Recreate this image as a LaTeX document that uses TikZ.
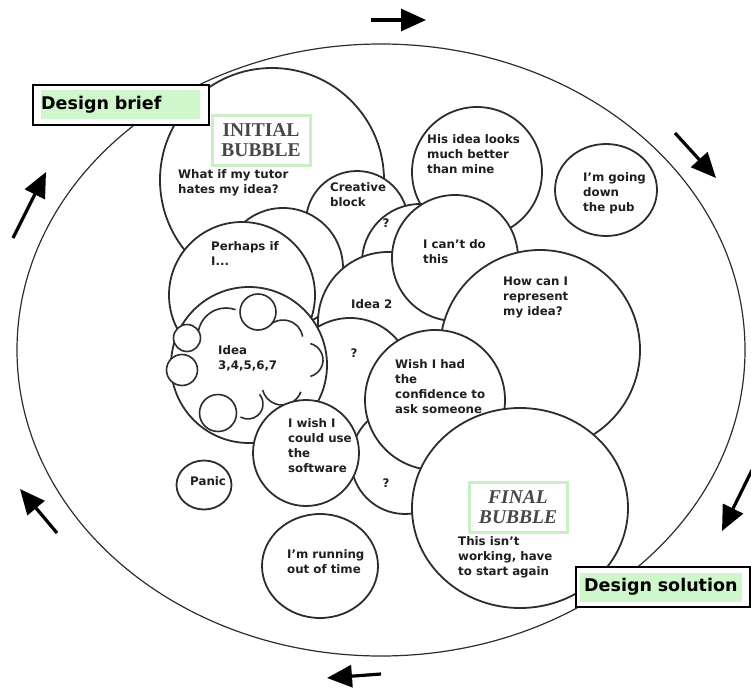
\documentclass[tikz,border=0pt]{standalone}
\usepackage{fontspec}
\setmainfont{DejaVu Sans}
\newfontfamily\stagefont{Liberation Serif}
\usetikzlibrary{arrows.meta,shapes.geometric}
\definecolor{briefgreen}{RGB}{208,246,204}
\definecolor{labelgreen}{RGB}{200,240,196}
\definecolor{inkgray}{RGB}{45,45,45}

\begin{document}
\begin{tikzpicture}[x=1pt,y=-1pt,
  bubble/.style={circle,draw=inkgray,fill=white,line width=1.8pt,inner sep=0pt},
  oval/.style={ellipse,draw=inkgray,fill=white,line width=1.8pt,inner sep=0pt},
  cloudline/.style={draw=inkgray,line width=1.6pt},
  thought/.style={anchor=north west,inner sep=0pt,align=left,text=black!88,font=\bfseries\fontsize{11.8}{15}\selectfont},
  query/.style={inner sep=0pt,text=black!88,font=\bfseries\fontsize{11.8}{15}\selectfont},
  turn/.style={line width=3.2pt,-{Triangle[length=25pt,width=22pt]}},
  stage/.style={draw=labelgreen,line width=3pt,fill=white,align=center,text=black!72,minimum width=98pt,minimum height=50pt,inner sep=0pt},
  endpoint/.style={draw=black,line width=1.1pt,fill=white,inner sep=0pt,minimum height=40pt},
  endfill/.style={fill=briefgreen,anchor=west,align=left,inner sep=0pt,minimum height=29pt,text=black,font=\bfseries\fontsize{17.5}{20}\selectfont}
]
\useasboundingbox (0,0) rectangle (751,690);

\draw node [ellipse,draw=inkgray,line width=1.2pt,minimum width=728pt,minimum height=612pt,inner sep=0pt] (loop) at (381,350) {};

\coordinate (topTail) at (371,20);
\coordinate (topTip) at (426,20);
\coordinate (neTail) at (675,133);
\coordinate (neTip) at (716,178);
\coordinate (eTail) at (752,470);
\coordinate (eTip) at (722,531);
\coordinate (sTail) at (381,674);
\coordinate (sTip) at (327,678);
\coordinate (swTail) at (57,533);
\coordinate (swTip) at (20,489);
\coordinate (nwTail) at (13,238);
\coordinate (nwTip) at (46,172);
\draw[turn] (topTail) -- (topTip);
\draw[turn] (neTail) -- (neTip);
\draw[turn] (eTail) -- (eTip);
\draw[turn] (sTail) -- (sTip);
\draw[turn] (swTail) -- (swTip);
\draw[turn] (nwTail) -- (nwTip);

\draw node [bubble,minimum size=224pt] (initial) at (272,180) {};
\draw node [bubble,minimum size=130pt] (hisidea) at (477,172) {};
\draw node [bubble,minimum size=102pt] (creative) at (357,222) {};
\draw node [bubble,minimum size=116pt] (qone) at (420,262) {};
\draw node [bubble,minimum size=120pt] (hidden) at (283,268) {};
\draw node [bubble,minimum size=140pt] (ideatwo) at (388,322) {};
\draw node [bubble,minimum size=126pt] (cant) at (455,258) {};
\draw node [bubble,minimum size=146pt] (perhaps) at (242,295) {};
\draw node [bubble,minimum size=200pt] (how) at (540,350) {};
\draw node [bubble,minimum size=124pt] (qtwo) at (350,380) {};
\draw node [bubble,minimum size=156pt] (ideas) at (249,365) {};
\draw[cloudline] ([shift={(190:28)}]226,336) arc[start angle=190,end angle=290,radius=28];
\draw[cloudline] ([shift={(230:20)}]283,340) arc[start angle=230,end angle=350,radius=20];
\draw[cloudline] ([shift={(-75:17)}]306,360) arc[start angle=-75,end angle=75,radius=17];
\draw[cloudline] ([shift={(20:20)}]282,385) arc[start angle=20,end angle=165,radius=20];
\draw[cloudline] ([shift={(-40:15)}]248,404) arc[start angle=-40,end angle=120,radius=15];
\draw node [bubble,line width=1.6pt,minimum size=36pt] (sparkA) at (258,312) {};
\draw node [bubble,line width=1.6pt,minimum size=27pt] (sparkB) at (187,338) {};
\draw node [bubble,line width=1.6pt,minimum size=31pt] (sparkC) at (182,370) {};
\draw node [bubble,line width=1.6pt,minimum size=37pt] (sparkD) at (218,413) {};
\draw node [bubble,minimum size=108pt] (qthree) at (405,460) {};
\draw node [bubble,minimum size=140pt] (wish) at (435,400) {};
\draw node [bubble,minimum size=106pt] (iwish) at (306,453) {};
\draw node [oval,minimum width=216pt,minimum height=200pt] (final) at (520,508) {};
\draw node [oval,minimum width=55pt,minimum height=49pt] (panic) at (204,485) {};
\draw node [oval,minimum width=116pt,minimum height=104pt] (running) at (320,566) {};
\draw node [oval,minimum width=102pt,minimum height=92pt] (pub) at (606,190) {};

\draw node [stage,font=\stagefont\bfseries\fontsize{19.5}{20.5}\selectfont] (initlabel) at (261,140) {INITIAL\\BUBBLE};
\draw node [stage,font=\stagefont\bfseries\itshape\fontsize{19.5}{20.5}\selectfont] (finallabel) at (518,507) {FINAL\\BUBBLE};

\draw node [thought] (tutorText) at (178,169) {What if my tutor\\hates my idea?};
\draw node [thought] (creativeText) at (330,182) {Creative\\block};
\draw node [query] (qoneText) at (386,223) {?};
\draw node [thought] (hisText) at (427,134) {His idea looks\\much better\\than mine};
\draw node [thought] (pubText) at (583,172) {I’m going\\down\\the pub};
\draw node [thought] (cantText) at (423,239) {I can’t do\\this};
\draw node [thought] (howText) at (503,277) {How can I\\represent\\my idea?};
\draw node [thought] (perhapsText) at (211,241) {Perhaps if\\I...};
\draw node [thought] (ideaTwoText) at (351,299) {Idea 2};
\draw node [thought] (ideasText) at (218,345) {Idea\\3,4,5,6,7};
\draw node [query] (qtwoText) at (354,353) {?};
\draw node [thought] (wishText) at (395,359) {Wish I had\\the\\confidence to\\ask someone};
\draw node [thought] (iwishText) at (288,418) {I wish I\\could use\\the\\software};
\draw node [thought] (panicText) at (190,476) {Panic};
\draw node [query] (qthreeText) at (386,483) {?};
\draw node [thought] (runningText) at (287,549) {I’m running\\out of time};
\draw node [thought] (finalText) at (458,536) {This isn’t\\working, have\\to start again};

\draw node [endpoint,minimum width=176pt] (brief) at (121,105) {};
\draw node [endfill,text width=159pt] (briefText) at (41,104.5) {Design brief};
\draw node [endpoint,minimum width=174pt] (solution) at (663,587) {};
\draw node [endfill,text width=162pt] (solutionText) at (580,587) {\hspace*{4pt}Design solution};
\end{tikzpicture}
\end{document}
